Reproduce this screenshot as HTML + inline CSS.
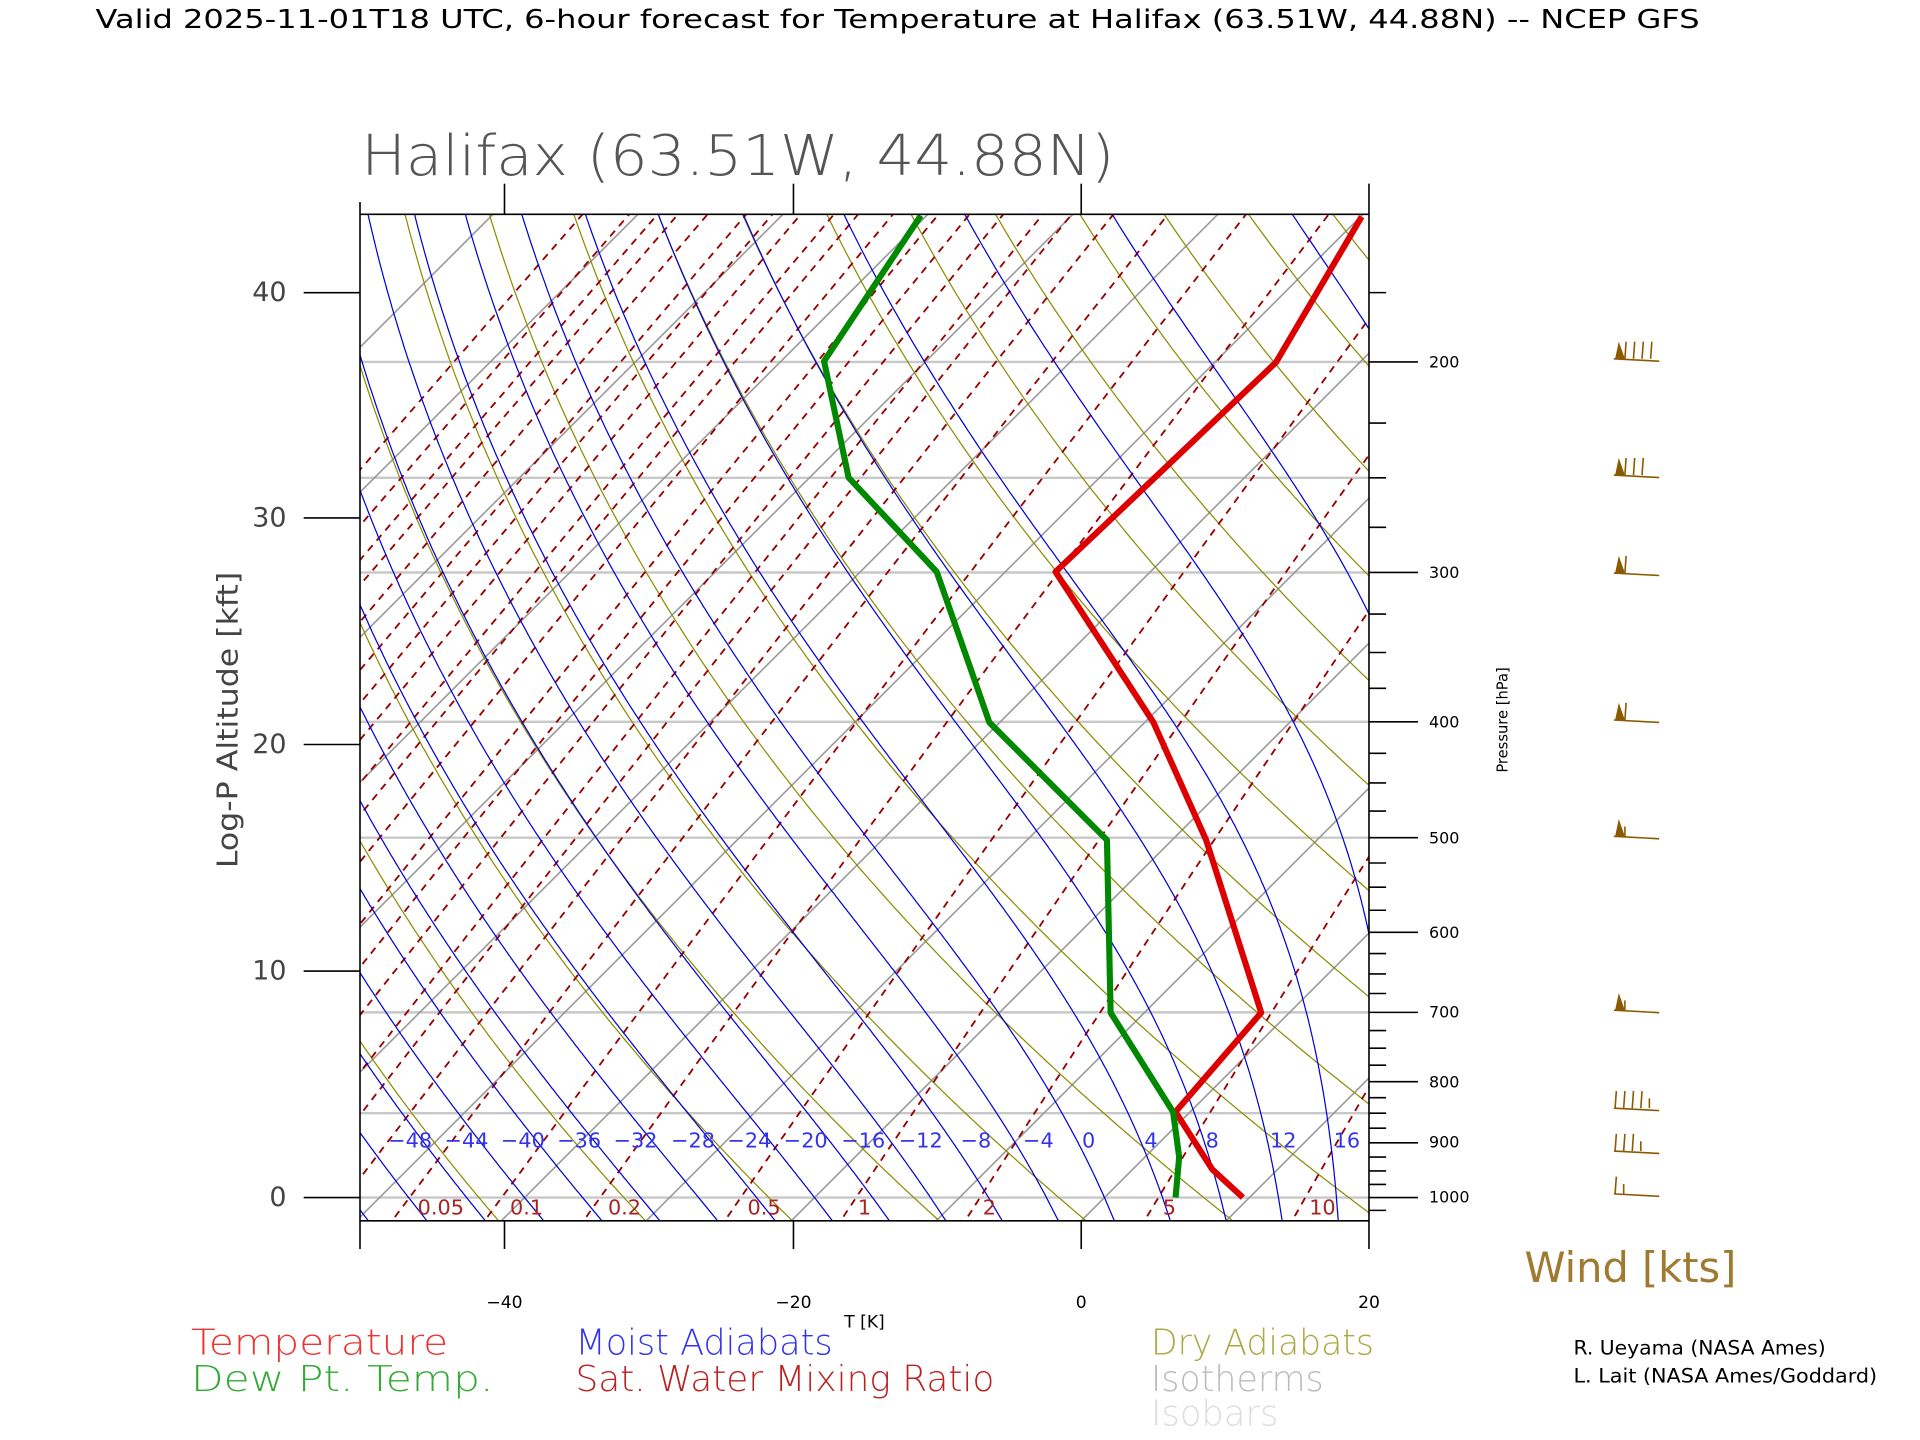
<!DOCTYPE html>
<html><head><meta charset="utf-8"><style>
html,body{margin:0;padding:0;background:#fff;}
svg{display:block;}
text{font-family:"DejaVu Sans","Liberation Sans",sans-serif;}
</style></head><body>
<svg id="s" width="1920" height="1440" viewBox="0 0 1568 1176" xmlns="http://www.w3.org/2000/svg">
<defs><clipPath id="c"><rect x="294" y="175" width="824" height="822"/></clipPath></defs>
<rect width="1568" height="1176" fill="#fff"/>
<text x="78" y="23" font-size="21" fill="#000" textLength="1310" lengthAdjust="spacingAndGlyphs">Valid 2025-11-01T18 UTC, 6-hour forecast for Temperature at Halifax (63.51W, 44.88N) -- NCEP GFS</text>
<text x="295" y="143" font-size="46" fill="#555" font-weight="200" textLength="615" lengthAdjust="spacingAndGlyphs">Halifax (63.51W, 44.88N)</text>
<g id="bg" clip-path="url(#c)"></g>
<g id="fg"></g>
<g font-size="17" fill="#3333ee" text-anchor="middle">
<text x="335" y="937">−48</text><text x="381" y="937">−44</text><text x="427" y="937">−40</text><text x="473" y="937">−36</text><text x="519" y="937">−32</text><text x="566" y="937">−28</text><text x="612" y="937">−24</text><text x="658" y="937">−20</text><text x="705" y="937">−16</text><text x="752" y="937">−12</text><text x="797" y="937">−8</text><text x="848" y="937">−4</text><text x="889" y="937">0</text><text x="940" y="937">4</text><text x="990" y="937">8</text><text x="1048" y="937">12</text><text x="1100" y="937">16</text>
</g>
<g font-size="17" fill="#aa2222" text-anchor="middle">
<text x="360" y="992">0.05</text><text x="430" y="992">0.1</text><text x="510" y="992">0.2</text><text x="624" y="992">0.5</text><text x="706" y="992">1</text><text x="808" y="992">2</text><text x="955" y="992">5</text><text x="1080" y="992">10</text>
</g>
<g font-size="22" fill="#444" text-anchor="end">
<text x="234" y="985">0</text><text x="234" y="800">10</text><text x="234" y="615">20</text><text x="234" y="430">30</text><text x="234" y="246">40</text>
</g>
<text transform="translate(194,588) rotate(-90)" font-size="23" fill="#444" text-anchor="middle" textLength="242" lengthAdjust="spacingAndGlyphs">Log-P Altitude [kft]</text>
<g font-size="13" fill="#000">
<text x="1167" y="300">200</text><text x="1167" y="472">300</text><text x="1167" y="594">400</text><text x="1167" y="689">500</text><text x="1167" y="766">600</text><text x="1167" y="831">700</text><text x="1167" y="888">800</text><text x="1167" y="937">900</text><text x="1167" y="982">1000</text>
</g>
<text transform="translate(1231,588) rotate(-90)" font-size="12" fill="#000" text-anchor="middle">Pressure [hPa]</text>
<g font-size="14" fill="#000" text-anchor="middle">
<text x="412" y="1068">−40</text><text x="648" y="1068">−20</text><text x="883" y="1068">0</text><text x="1118" y="1068">20</text><text x="706" y="1084">T [K]</text>
</g>
<g font-size="29" font-weight="200">
<text x="156" y="1106" fill="#ee3333" textLength="210" lengthAdjust="spacingAndGlyphs">Temperature</text>
<text x="156" y="1136" fill="#33aa33" textLength="247" lengthAdjust="spacingAndGlyphs">Dew Pt. Temp.</text>
<text x="470" y="1106" fill="#3333ee" textLength="210" lengthAdjust="spacingAndGlyphs">Moist Adiabats</text>
<text x="470" y="1136" fill="#bb2222" textLength="342" lengthAdjust="spacingAndGlyphs">Sat. Water Mixing Ratio</text>
<text x="940" y="1106" fill="#aaaa44" textLength="182" lengthAdjust="spacingAndGlyphs">Dry Adiabats</text>
<text x="940" y="1136" fill="#bbbbbb" textLength="141" lengthAdjust="spacingAndGlyphs">Isotherms</text>
<text x="940" y="1164" fill="#dddddd" textLength="104" lengthAdjust="spacingAndGlyphs">Isobars</text>
</g>
<text x="1245" y="1047" font-size="34" fill="#a07a30" textLength="173" lengthAdjust="spacingAndGlyphs">Wind [kts]</text>
<text x="1285" y="1106" font-size="16" fill="#000" textLength="206" lengthAdjust="spacingAndGlyphs">R. Ueyama (NASA Ames)</text>
<text x="1285" y="1129" font-size="16" fill="#000" textLength="248" lengthAdjust="spacingAndGlyphs">L. Lait (NASA Ames/Goddard)</text>
</svg>
<script>
(function(){
var NS="http://www.w3.org/2000/svg";
var bg=document.getElementById("bg"),fg=document.getElementById("fg");
function Y(p){return 978-424*Math.log(1000/p);}
function X(t,y){return 883+11.84*t+1.0*(997-y);}
function add(par,tag,at){var e=document.createElementNS(NS,tag);for(var k in at)e.setAttribute(k,at[k]);par.appendChild(e);return e;}
function poly(par,pts,st){var d="";for(var i=0;i<pts.length;i++)d+=(i?"L":"M")+pts[i][0].toFixed(1)+","+pts[i][1].toFixed(1);var a={d:d,fill:"none"};for(var k in st)a[k]=st[k];return add(par,"path",a);}
var ps=[];for(var p=1060;p>=140;p-=5)ps.push(p);
[1000,850,700,500,400,300,250,200].forEach(function(p){var y=Y(p);add(bg,"line",{x1:294,y1:y,x2:1118,y2:y,stroke:"#c8c8c8","stroke-width":2});});
for(var t=-160;t<=60;t+=10){poly(bg,[[X(t,1000),1000],[X(t,170),170]],{stroke:"#999","stroke-width":1.3});}
for(var th=150;th<=480;th+=10){var pts=ps.map(function(p){var T=th*Math.pow(p/1000,0.286)-273.15;var y=Y(p);return [X(T,y),y];});poly(bg,pts,{stroke:"#8c8c00","stroke-width":1});}
[0.00005,0.0001,0.00015,0.0002,0.0003,0.0005,0.0007,0.001,0.0015,0.002,0.003,0.005,0.007,0.01,0.015,0.02,0.03,0.05,0.1,0.2,0.5,1,2,5,10,20].forEach(function(w){var pts=ps.map(function(p){var r=w/1000;var e=r*p/(0.622+r);var l=Math.log(e/6.112);var T=243.5*l/(17.67-l);var y=Y(p);return [X(T,y),y];});poly(bg,pts,{stroke:"#990000","stroke-width":1.5,"stroke-dasharray":"6,5"});});
function es(Tc){return 6.112*Math.exp(17.67*Tc/(Tc+243.5));}
function dTdp(T,p){var Tc=T-273.15;var e=es(Tc);var rs=0.622*e/(p-e);var Rd=287,cp=1005,L=2.5e6;return (1/p)*(Rd*T+L*rs)/(cp+L*L*rs*0.622/(Rd*T*T));}
for(var t0=-72;t0<=40;t0+=4){var T=t0+273.15,p;
 var Td=T;for(p=1000;p<1060;p+=2){Td+=dTdp(Td,p)*2;}
 var down=[[Td,1060]];
 T=t0+273.15;var up=[];for(p=1000;p>=140;p-=2){up.push([T,p]);T-=dTdp(T,p)*2;}
 var pts=down.concat(up).map(function(a){var y=Y(a[1]);return [X(a[0]-273.15,y),y];});
 poly(bg,pts,{stroke:"#0000dd","stroke-width":1});}
poly(fg,[[1015,978],[990,955],[960,908],[1030,827],[985,686],[942,590],[862,467],[940,393],[1042,296],[1112,177]],{stroke:"#dd0000","stroke-width":5,"stroke-linejoin":"round"});
poly(fg,[[960,978],[963,945],[958,908],[907,827],[904,686],[808,590],[765,467],[693,390],[673,295],[752,176]],{stroke:"#008800","stroke-width":5,"stroke-linejoin":"round"});
var k={stroke:"#000","stroke-width":1.3};
add(fg,"line",Object.assign({x1:294,y1:175,x2:1118,y2:175},k));
add(fg,"line",Object.assign({x1:294,y1:997,x2:1118,y2:997},k));
add(fg,"line",Object.assign({x1:294,y1:165,x2:294,y2:1020},k));
add(fg,"line",Object.assign({x1:1118,y1:150,x2:1118,y2:1020},k));
[412,648,883].forEach(function(x){add(fg,"line",Object.assign({x1:x,y1:150,x2:x,y2:175},k));add(fg,"line",Object.assign({x1:x,y1:997,x2:x,y2:1020},k));});
[978,793,608,423,239].forEach(function(y){add(fg,"line",Object.assign({x1:248,y1:y,x2:294,y2:y},k));});
[1000,900,800,700,600,500,400,300,200].forEach(function(p){var y=Y(p);add(fg,"line",Object.assign({x1:1118,y1:y,x2:1158,y2:y},k));});
[1025,975,950,925,875,850,825,775,750,725,675,650,625,575,550,525,475,450,425,375,350,325,275,250,225,175].forEach(function(p){var y=Y(p);add(fg,"line",Object.assign({x1:1118,y1:y,x2:1132,y2:y},k));});
var wb=[[293,"ppppp"],[388,"pppp"],[468,"pf"],[588,"pf"],[683,"ph"],[825,"ph"],[905,"ffffh"],[940,"fffh"],[975,"fh"]];
var col="#8b5a00";
wb.forEach(function(b){var y=b[0];add(fg,"line",{x1:1318,y1:y,x2:1355,y2:y+2,stroke:col,"stroke-width":1.3});
 var x=1319;for(var i=0;i<b[1].length;i++){var c=b[1][i];
  if(c=="p"&&i==0){add(fg,"path",{d:"M"+x+","+y+" L"+(x+3)+","+(y-14)+" L"+(x+8)+","+y+"Z",fill:col});x+=8;}
  else if(c=="p"||c=="f"){add(fg,"line",{x1:x,y1:y,x2:x+1,y2:y-14,stroke:col,"stroke-width":1.3});x+=7;}
  else {add(fg,"line",{x1:x,y1:y,x2:x,y2:y-8,stroke:col,"stroke-width":1.3});x+=7;}}
});
})();
</script>
</body></html>
